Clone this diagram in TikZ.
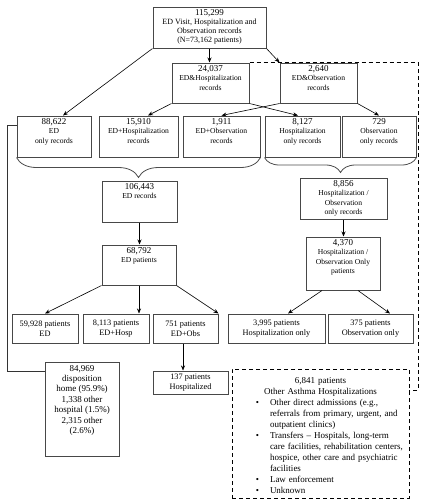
\documentclass[tikz,border=0pt]{standalone}
\usepackage{fontspec}
\setmainfont{Liberation Serif}
\usetikzlibrary{arrows.meta,fit,decorations.pathreplacing}
\newcommand\numf{\fontsize{9}{10}\selectfont}
\newcommand\labf{\fontsize{7.6}{9.2}\selectfont}
\newcommand\rowf{\fontsize{8.3}{10}\selectfont}
\tikzset{
  box/.style={draw=black!72, line width=1pt, inner sep=0pt, fill=white},
  txt/.style={align=center, inner sep=0.5pt, font=\labf},
  arr/.style={-{Stealth[length=5pt,width=4pt]}, line width=0.6pt},
  brc/.style={draw=black!70, line width=0.8pt, decorate,
    decoration={brace, mirror, amplitude=#1, aspect=0.5}},
  dsh/.style={dash pattern=on 4pt off 3pt, line width=0.9pt},
  dbox/.style={draw, dash pattern=on 4pt off 3pt, line width=0.9pt, inner sep=0pt},
}
\newcommand\mybox[6]{\node[box, fit={(#2,#3) (#4,#5)}] (#1) {};
  \node[txt, anchor=north] (#1t) at ([yshift=-2.5pt]#1.north) {#6};}
\newcommand\mycbox[6]{\node[box, fit={(#2,#3) (#4,#5)}] (#1) {};
  \node[txt, font=\rowf] (#1t) at (#1.center) {#6};}
\begin{document}
\begin{tikzpicture}[x=1pt,y=-1pt]
\useasboundingbox (0,0) rectangle (428,504);

% top
\node[box, fit={(153,7) (266,48)}] (top) {};
\node[txt, font=\fontsize{8}{9}\selectfont, anchor=north] (topt) at ([yshift=-2.5pt]top.north)
  {{\numf 115,299}\\ED Visit, Hospitalization and\\Observation records\\(N=73,162 patients)};

\mybox{n240}{172}{63}{249}{103}{{\numf 24,037}\\ED\&Hospitalization\\records}
\mybox{n264}{280}{63}{357}{103}{{\numf 2,640}\\ED\&Observation\\records}

\mybox{n88}{17}{116}{91}{157}{{\numf 88,622}\\ED\\only records}
\mybox{n159}{99}{116}{178}{157}{{\numf 15,910}\\ED+Hospitalization\\records}
\mybox{n191}{183}{116}{260}{157}{{\numf 1,911}\\ED+Observation\\records}
\mybox{n812}{265}{116}{340}{157}{{\numf 8,127}\\Hospitalization\\only records}
\mybox{n729}{342}{116}{416}{157}{{\numf 729}\\Observation\\only records}

\mybox{n106}{102}{181}{177}{222}{{\numf 106,443}\\ED records}
\mybox{n885}{300}{178}{387}{219}{{\numf 8,856}\\Hospitalization /\\Observation\\only records}
\mybox{n687}{102}{245}{176}{285}{{\numf 68,792}\\ED patients}
\mybox{n437}{306}{237}{380}{290}{{\numf 4,370}\\Hospitalization /\\Observation Only\\patients}

\mycbox{n599}{12}{314}{78}{343}{59,928 patients\\ED}
\mycbox{n811}{83}{314}{149}{343}{8,113 patients\\ED+Hosp}
\mycbox{n751}{153}{314}{218}{343}{751 patients\\ED+Obs}
\mycbox{n399}{228}{314}{325}{343}{3,995 patients\\Hospitalization only}
\mycbox{n375}{328}{314}{413}{343}{375 patients\\Observation only}
\mycbox{n137}{153}{371}{228}{394}{137 patients\\Hospitalized}

\node[box, fit={(45,362) (119,456)}] (n849) {};
\node[txt, font=\fontsize{9}{10.4}\selectfont, anchor=north] (n849t) at ([yshift=-3pt]n849.north)
  {84,969\\disposition\\home (95.9\%)\\1,338 other\\hospital (1.5\%)\\2,315 other\\(2.6\%)};

\node[dbox, fit={(232,369) (409,498)}] (dbx) {};
\node[anchor=north, inner sep=0pt, text width=172pt, align=left,
      font=\fontsize{9}{11}\selectfont] (dtext) at ([yshift=-9pt]dbx.north)
  {\centering 6,841 patients\\ Other Asthma Hospitalizations\par
   \begin{list}{\textbullet}{\setlength\leftmargin{35.5pt}\setlength\labelsep{11pt}%
     \setlength\labelwidth{10pt}\setlength\itemsep{0pt}\setlength\parsep{0pt}%
     \setlength\topsep{0pt}\setlength\partopsep{0pt}}
   \raggedright
   \item Other direct admissions (e.g.,\\ referrals from primary, urgent, and\\ outpatient clinics)
   \item Transfers – Hospitals, long-term\\ care facilities, rehabilitation centers,\\ hospice, other care and psychiatric\\ facilities
   \item Law enforcement
   \item Unknown
   \end{list}};

% braces
\draw[brc=20pt] (n88.south west) -- (n191.south east);
\draw[brc=15pt] (n812.south west) -- (n729.south east);

% dashed connector
\coordinate (dj) at (418,390);
\draw[white, line width=1.2pt] (n264.north west) -- (n264.north east);
\draw[dsh] (n240.north east) -| (dj) -- (dj -| dbx.east);

% arrows
\draw[arr] (top.south west) -- ([xshift=9pt]n88.north);
\draw[arr] (top.south) -- (top.south |- n240.north);
\draw[arr] (top.south east) -- (n264.north west);
\draw[arr] (n240.south west) -- ([xshift=9.5pt]n159.north);
\draw[arr] (n240.south east) -- ([xshift=-4.5pt]n812.north);
\draw[arr] (n264.south west) -- (n191.north);
\draw[arr] (n264.south east) -- (n729.north);
\draw[arr] (n106.south) -- (n106.south |- n687.north);
\draw[arr] (n885.south) -- (n885.south |- n437.north);
\draw[arr] (n687.south west) -- (n599.north);
\draw[arr] (n687.south) -- (n687.south |- n811.north);
\draw[arr] (n687.south east) -- (n751.north east);
\draw[arr] ([xshift=-21pt]n437.south) -- ([xshift=11.5pt]n399.north);
\draw[arr] ([xshift=15pt]n437.south) -- ([xshift=19.5pt]n375.north);
\draw[arr] ([xshift=-2.5pt]n751.south) -- ([xshift=-2.5pt]n751.south |- n137.north);

% line from ED-only records to disposition box
\draw[line width=0.8pt, black!80] ([yshift=11.5pt]n88.west) -- ++(-9,0) |- ([yshift=38pt]n849.west);
\end{tikzpicture}
\end{document}
